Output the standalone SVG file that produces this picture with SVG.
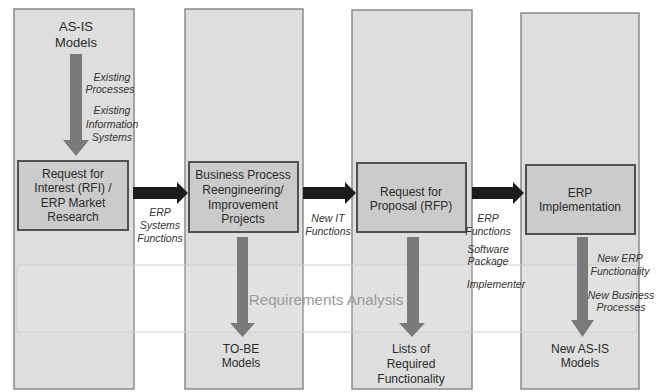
<svg xmlns="http://www.w3.org/2000/svg" width="665" height="392" viewBox="0 0 665 392">
<style>
.col{fill:#dedede;stroke:#8a8a8a;stroke-width:1.5}
.box{fill:#cbcbcb;stroke:#505050;stroke-width:2}
.t{font-family:"Liberation Sans",Arial,sans-serif;font-size:12px;fill:#2a2a2a;text-anchor:middle}
.big{font-size:13px}
.it{font-family:"Liberation Sans",Arial,sans-serif;font-size:10.5px;font-style:italic;fill:#333;text-anchor:middle}
.down{fill:#7a7a7a}
.right{fill:#1c1c1c}
.band{fill:#ffffff;fill-opacity:0.12;stroke:#cfcfcf;stroke-width:1.2}
.req{font-family:"Liberation Sans",Arial,sans-serif;font-size:15.2px;fill:#9a9a9a;text-anchor:middle}
</style>
<rect width="665" height="392" fill="#ffffff"/>
<g id="lane1"><rect class="col" x="14" y="9" width="120" height="380"/></g>
<g id="lane2"><rect class="col" x="185" y="9" width="118" height="380"/></g>
<g id="lane3"><rect class="col" x="352" y="10" width="120" height="379"/></g>
<g id="lane4"><rect class="col" x="521" y="13" width="118" height="376"/></g>
<g id="requirements-analysis">
<rect class="band" x="17" y="265" width="620" height="67" rx="3"/>
</g>
<g id="connectors">
<polygon class="down" points="70,54 82,54 82,140 89,140 76,156 63,140 70,140"/>
<polygon class="down" points="237,237 248,237 248,323 255,323 242.5,337 230,323 237,323"/>
<polygon class="down" points="407,237 419,237 419,323 425,323 412,337 399,323 407,323"/>
<polygon class="down" points="577,237 588,237 588,320 594,320 582.5,337 571,320 577,320"/>
<polygon class="right" points="133,187 177,187 177,182 188,193 177,204 177,199 133,199"/>
<polygon class="right" points="303,187 345,187 345,182 356,193 345,204 345,199 303,199"/>
<polygon class="right" points="472,187 513,187 513,182 524,193 513,204 513,199 472,199"/>
</g>
<text class="req" x="326" y="305">Requirements Analysis</text>
<g id="as-is-models">
<text class="t big" x="76" y="31">AS-IS</text>
<text class="t big" x="76" y="47">Models</text>
</g>
<g id="rfi">
<rect class="box" x="18" y="161" width="110" height="69"/>
<text class="t" x="73" y="178">Request for</text>
<text class="t" x="73" y="192">Interest (RFI) /</text>
<text class="t" x="73" y="207">ERP Market</text>
<text class="t" x="73" y="221">Research</text>
</g>
<g id="bpr">
<rect class="box" x="189" y="162" width="109" height="70"/>
<text class="t" x="243" y="179">Business Process</text>
<text class="t" x="243" y="194">Reengineering/</text>
<text class="t" x="243" y="209">Improvement</text>
<text class="t" x="243" y="223">Projects</text>
</g>
<g id="rfp">
<rect class="box" x="357" y="163" width="109" height="69"/>
<text class="t" x="411" y="196">Request for</text>
<text class="t" x="411" y="210">Proposal (RFP)</text>
</g>
<g id="erp-impl">
<rect class="box" x="526" y="165" width="109" height="69"/>
<text class="t" x="580" y="197">ERP</text>
<text class="t" x="580" y="211">Implementation</text>
</g>
<g id="to-be">
<text class="t" x="241" y="353">TO-BE</text>
<text class="t" x="241" y="367">Models</text>
</g>
<g id="lists">
<text class="t" x="411" y="353">Lists of</text>
<text class="t" x="411" y="368">Required</text>
<text class="t" x="411" y="383">Functionality</text>
</g>
<g id="new-as-is">
<text class="t" x="580" y="353">New AS-IS</text>
<text class="t" x="580" y="367">Models</text>
</g>
<g id="labels">
<text class="it" x="112" y="81">Existing</text>
<text class="it" x="110" y="93">Processes</text>
<text class="it" x="112" y="114">Existing</text>
<text class="it" x="112" y="128">Information</text>
<text class="it" x="112" y="141">Systems</text>
<text class="it" x="160" y="216">ERP</text>
<text class="it" x="160" y="229">Systems</text>
<text class="it" x="160" y="242">Functions</text>
<text class="it" x="328" y="222">New IT</text>
<text class="it" x="328" y="235">Functions</text>
<text class="it" x="488" y="222">ERP</text>
<text class="it" x="488" y="235">Functions</text>
<text class="it" x="488" y="253">Software</text>
<text class="it" x="488" y="265">Package</text>
<text class="it" x="496" y="288">Implementer</text>
<text class="it" x="620" y="262">New ERP</text>
<text class="it" x="620" y="275">Functionality</text>
<text class="it" x="621" y="299">New Business</text>
<text class="it" x="621" y="311">Processes</text>
</g>
</svg>
